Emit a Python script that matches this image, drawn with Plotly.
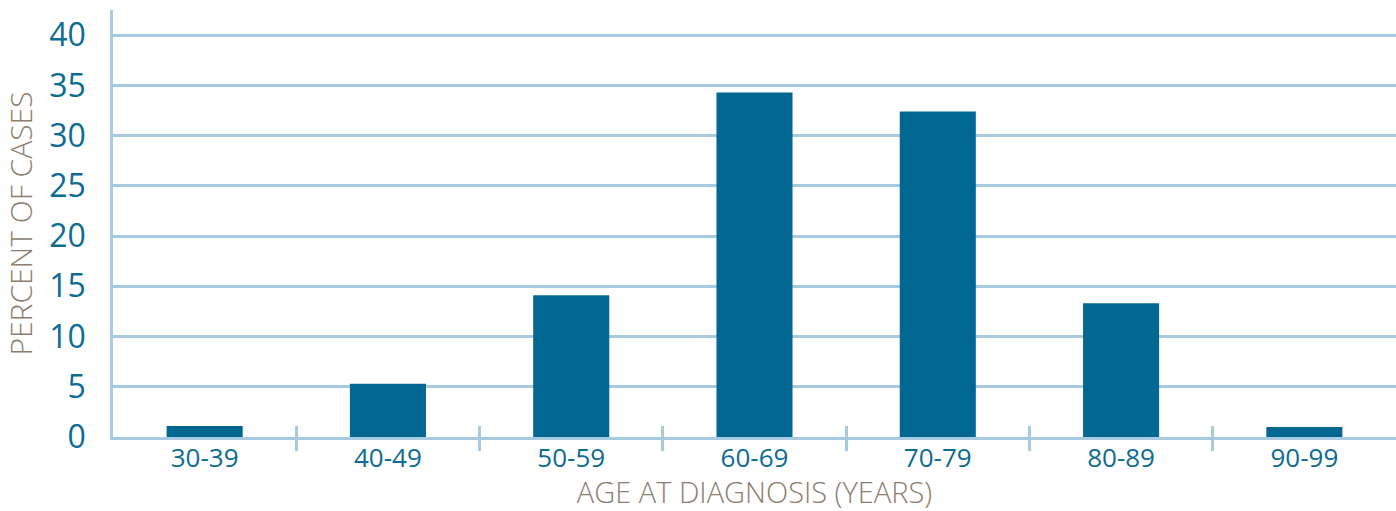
import plotly.graph_objects as go

categories = ["30-39", "40-49", "50-59", "60-69", "70-79", "80-89", "90-99"]
percent_of_cases = [1.1, 5.3, 14.1, 34.3, 32.4, 13.3, 1.0]
y_ticks = [0, 5, 10, 15, 20, 25, 30, 35, 40]
x_title = "AGE AT DIAGNOSIS (YEARS)"
y_title = "PERCENT OF CASES"

BAR = "#036891"
GRID = "#a8cae0"
LABEL = "#0d6b94"
TITLE = "#8d7d6e"
FONT = "Open Sans"

boundaries = [i + 0.5 for i in range(len(categories) - 1)]

fig = go.Figure()
fig.add_trace(go.Bar(x=categories, y=percent_of_cases, marker=dict(color=BAR, line=dict(width=0)),
                     hoverinfo="x+y"))
# invisible helper traces so the overlay tick axes (category separators) are rendered
for ax in ("x2", "x3"):
    fig.add_trace(go.Scatter(x=boundaries, y=[0] * len(boundaries), xaxis=ax, yaxis="y",
                             mode="markers", marker=dict(opacity=0), hoverinfo="skip",
                             showlegend=False))

fig.update_layout(
    width=1396, height=511,
    margin=dict(l=113, r=0, t=10, b=74),
    paper_bgcolor="white", plot_bgcolor="white",
    bargap=0.585,
    showlegend=False,
    xaxis=dict(
        type="category",
        showgrid=False, zeroline=False,
        showline=True, linecolor=GRID, linewidth=2.5,
        ticks="",
        tickfont=dict(family=FONT, size=26, color=LABEL),
        ticklabelstandoff=-4,
        title=dict(text=x_title, font=dict(family=FONT, size=29, color=TITLE, weight=300), standoff=6),
    ),
    xaxis2=dict(
        overlaying="x", anchor="y", side="bottom",
        range=[-0.5, len(categories) - 0.5],
        tickvals=boundaries, showticklabels=False,
        ticks="inside", ticklen=11, tickwidth=2.5, tickcolor=GRID,
        showgrid=False, zeroline=False, showline=False,
    ),
    xaxis3=dict(
        overlaying="x", anchor="y", side="bottom",
        range=[-0.5, len(categories) - 0.5],
        tickvals=boundaries, showticklabels=False,
        ticks="outside", ticklen=13, tickwidth=2.5, tickcolor=GRID,
        showgrid=False, zeroline=False, showline=False,
    ),
    yaxis=dict(
        range=[0, 42.5],
        tickvals=y_ticks,
        showgrid=True, gridcolor=GRID, gridwidth=3,
        zeroline=False,
        showline=True, linecolor=GRID, linewidth=2.5,
        ticks="",
        tickfont=dict(family=FONT, size=32, color=LABEL),
        ticklabelstandoff=18,
        title=dict(text=y_title, font=dict(family=FONT, size=30, color=TITLE, weight=300), standoff=15),
    ),
)

fig.write_html("out.html", config={"displayModeBar": False},
               post_script="document.body.style.margin='0';")
